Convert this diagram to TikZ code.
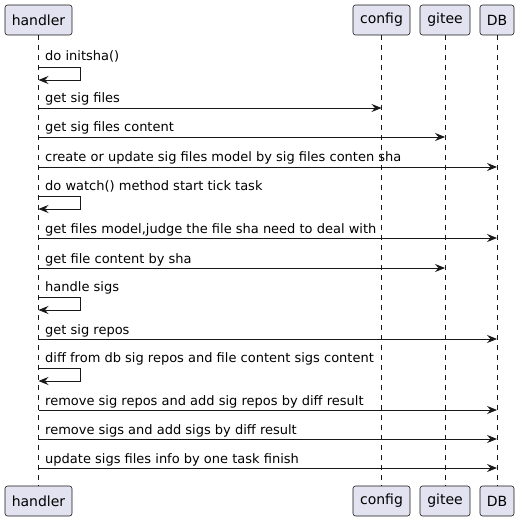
\documentclass[tikz,border=0pt]{standalone}
\usepackage{fontspec}
\setmainfont{DejaVu Sans}
\usetikzlibrary{arrows.meta,positioning,calc}
\definecolor{lilac}{HTML}{E2E2F0}
\definecolor{ink}{HTML}{181818}
\tikzset{
  >={Stealth[length=10pt,width=8pt,inset=3.5pt]},
  actor/.style={draw=ink,fill=lilac,rounded corners=2.5pt,line width=0.6pt,
    minimum height=30pt,minimum width=#1,inner sep=0pt,font=\fontsize{14}{16}\selectfont},
  actor/.default=50pt,
  life/.style={draw=ink,line width=0.5pt,dash pattern=on 5pt off 5pt},
  msg/.style={->,draw=ink,line width=0.9pt},
  said/.style={anchor=base west,inner sep=0pt,font=\fontsize{13}{15}\selectfont},
}
\begin{document}
\begin{tikzpicture}[x=1pt,y=-1pt]
    \useasboundingbox (0,0) rectangle (519,521);
    % participants, top and bottom
    \foreach \n/\x/\w in {handler/38.5/67pt,config/381.5/57pt,gitee/445/50pt,DB/497/34pt}{
      \node[actor=\w] (\n) at (\x,20) {\n};
      \node[actor=\w] (\n b) at (\x,501) {\n};
      \draw[life] (\n.south) -- (\n b.north);
    }
    % calls to other participants
    \foreach \y/\t/\s in {108/config/get sig files,137/gitee/get sig files content,
      167/DB/create or update sig files model by sig files conten sha,
      238/DB/{get files model,judge the file sha need to deal with},
      268/gitee/get file content by sha,339/DB/get sig repos,
      410/DB/remove sig repos and add sig repos by diff result,
      439/DB/remove sigs and add sigs by diff result,
      468/DB/update sigs files info by one task finish}{
      \draw[msg] (handler.south |- 0,\y) -- (\t.south |- 0,\y);
      \node[said] at (45,\y-5) {\s};
    }
    % calls to itself
    \foreach \y/\s in {67/do initsha(),196/do watch() method start tick task,
      297/handle sigs,368/diff from db sig repos and file content sigs content}{
      \draw[msg] (handler.south |- 0,\y) -- ++(42,0) -- ++(0,13) -- ++(-42,0);
      \node[said] at (45,\y-6) {\s};
    }
  \end{tikzpicture}
\end{document}
